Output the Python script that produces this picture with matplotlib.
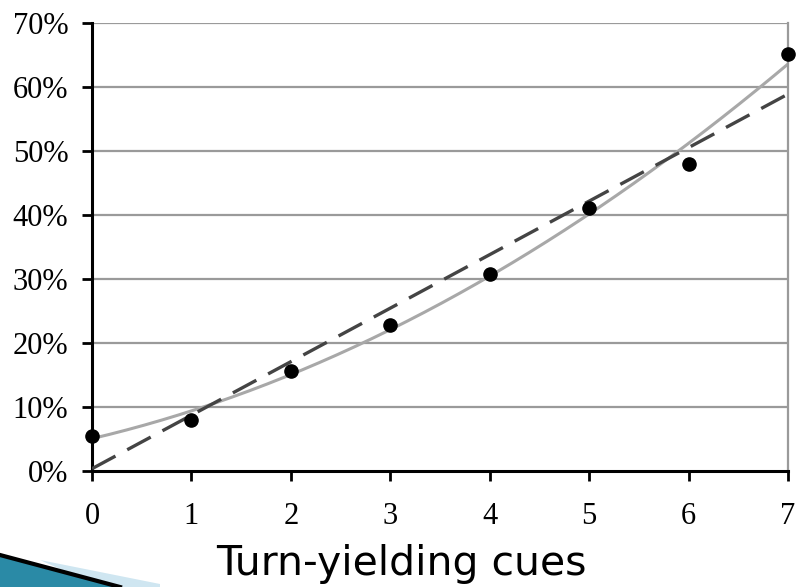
import matplotlib.pyplot as plt
import numpy as np
from matplotlib.patches import Polygon

# data
cues = [0, 1, 2, 3, 4, 5, 6, 7]
share = [5.5, 8.0, 15.6, 22.8, 30.8, 41.1, 48.0, 65.2]
yticks = [0, 10, 20, 30, 40, 50, 60, 70]

x = np.array(cues)
y = np.array(share)

# trendlines: linear (dashed) and quadratic (grey)
lin = np.polyfit(x, y, 1)
quad = np.polyfit(x, y, 2)
xs = np.linspace(0, 7, 200)

fig = plt.figure(figsize=(7.96, 5.87), dpi=100)
ax = fig.add_axes([92 / 796, 1 - 471 / 587, 696 / 796, 448 / 587])

for t in yticks[1:]:
    ax.axhline(t, color='#9a9a9a', lw=1.6, zorder=1)

ax.plot(xs, np.polyval(quad, xs), color='#a8a8a8', lw=2.2, zorder=2)
ax.plot(xs, np.polyval(lin, xs), color='#444444', lw=2.4, dashes=(8, 4), zorder=3)
ax.scatter(x, y, s=90, color='black', zorder=4, clip_on=False)

ax.set_xlim(0, 7)
ax.set_ylim(0, 70)
ax.set_xticks(cues)
ax.set_yticks(yticks)
ax.set_yticklabels([f'{t}%' for t in yticks])

for lab in ax.get_xticklabels() + ax.get_yticklabels():
    lab.set_family('Liberation Serif')
    lab.set_fontsize(22)

ax.tick_params(direction='out', length=7, width=2, color='black')
ax.tick_params(axis='y', pad=10)
ax.tick_params(axis='x', pad=15)
ax.spines['left'].set_linewidth(2.2)
ax.spines['bottom'].set_linewidth(2.2)
ax.spines['right'].set_color('#9a9a9a')
ax.spines['right'].set_linewidth(1.6)
ax.spines['top'].set_visible(False)

fig.text(401 / 796, 1 - 575 / 587, 'Turn-yielding cues', fontsize=29.5,
         family='DejaVu Sans', ha='center', va='baseline')

# slide bullet decoration in the bottom-left corner
glow = Polygon([[40 / 796, 1 - 560 / 587], [160 / 796, 1 - 584 / 587],
                [160 / 796, 0], [100 / 796, 0]], closed=True,
               transform=fig.transFigure, facecolor='#cfe6f1', edgecolor='none')
wedge = Polygon([[0, 1 - 555 / 587], [0, 0], [120 / 796, 0]], closed=True,
                transform=fig.transFigure, facecolor='#2a8aa6', edgecolor='none')
fig.patches.append(glow)
fig.patches.append(wedge)
fig.lines.append(plt.Line2D([0, 120 / 796], [1 - 555 / 587, 0], transform=fig.transFigure,
                            color='black', lw=3))

fig.savefig('out.png', dpi=100)
